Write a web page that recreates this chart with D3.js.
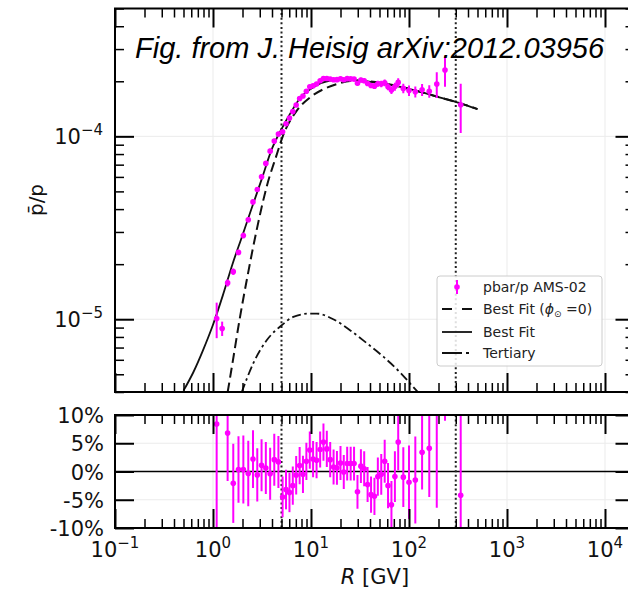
<!DOCTYPE html>
<html>
<head>
<meta charset="utf-8">
<script src="https://cdn.jsdelivr.net/npm/d3@7"></script>
<style>
  body { margin: 0; background: #fff; }
  svg { display: block; font-family: "DejaVu Sans", sans-serif; }
</style>
</head>
<body>
<svg id="chart" width="628" height="589"></svg>
<script>
// AMS-02 pbar/p points (rigidity in GV)
const rigidity = [1.09, 1.24, 1.41, 1.61, 1.82, 2.04, 2.29, 2.56, 2.83, 3.13, 3.46, 3.83, 4.22, 4.65,
  5.13, 5.56, 6.03, 6.52, 7.06, 7.66, 8.28, 8.97, 9.72, 10.5, 11.4, 12.4, 13.4, 14.5, 15.7, 17.0, 18.4,
  20.0, 21.6, 23.4, 25.4, 27.5, 29.8, 32.3, 34.9, 37.8, 41.0, 44.4, 48.1, 52.1, 56.5, 61.1, 66.2, 71.8,
  77.6, 87.5, 100, 116, 136, 161, 192, 233, 337];
const ratio = [1.01e-5, 8.9e-6, 1.58e-5, 1.82e-5, 2.32e-5, 2.87e-5, 3.50e-5, 4.38e-5, 5.12e-5, 6.01e-5,
  7.11e-5, 8.30e-5, 9.42e-5, 1.03e-4,
  1.06e-4, 1.171e-4, 1.258e-4, 1.365e-4, 1.484e-4, 1.609e-4, 1.663e-4, 1.763e-4, 1.866e-4, 1.890e-4,
  1.931e-4, 2.015e-4, 2.070e-4, 2.070e-4, 2.057e-4, 2.039e-4, 2.042e-4, 2.064e-4, 2.037e-4, 2.067e-4,
  2.061e-4, 2.056e-4, 1.950e-4, 2.034e-4, 2.014e-4, 1.945e-4, 1.898e-4, 1.881e-4, 1.938e-4, 1.933e-4,
  1.963e-4, 1.868e-4, 1.790e-4, 1.871e-4, 1.972e-4,
  1.828e-4, 1.779e-4, 1.751e-4, 1.797e-4, 1.764e-4, 1.930e-4, 2.307e-4, 1.489e-4];
// relative uncertainty of the ratio, %
const ratioErr = [22, 9, 4.5, 4, 3.5, 3.5, 3, 3, 3, 3, 3, 3, 3, 3,
  2.5, 2.5, 2.5, 2.5, 2.5, 2.5, 2.5, 2.5, 2.5, 2.5, 2.5, 2.5, 2.5, 2.5, 2.5, 2.5, 2.5, 2.5, 2.5, 2.5,
  2.5, 2.5, 2.6, 2.7, 2.8, 3, 3.2, 3.5, 3.8, 4, 4.2, 4.5, 4.8, 5, 5.5,
  6, 6.5, 7, 7.5, 8, 16, 19, 30];
// residuals to best fit, %
const residual = [8.4, -30, 6.8, -2.1, 0.35, 0.35, -0.35, 2.2, -0.6, 1.1, 0.6, -0.4, 2.1, 1.7,
  -4.5, -3.2, -3.7, -2.5, -0.65, 1.05, -0.5, 1.8, 3.8, 2.2, 2.0, 3.9, 5.2, 4.0, 2.1, 0.8, 0.65, 1.5,
  -0.1, 1.4, 1.4, 1.4, -3.6, 0.95, 0.5, -2.3, -4.1, -4.4, -0.9, -0.5, 1.8, -2.5, -5.9, -0.9, 5.2,
  -1.0, -1.9, -1.5, 3.4, 4.1, 11, 28, -4.2];
const residualErr = [22, 9, 8.5, 7.0, 5.9, 6.0, 5.8, 5.1, 4.7, 4.6, 4.6, 4.6, 4.6, 4.6,
  3.6, 3.5, 3.5, 3.4, 3.4, 3.3, 3.3, 3.3, 3.3, 3.2, 3.2, 3.2, 3.3, 3.2, 3.1, 3.1, 3.0, 3.0, 3.0, 3.0,
  3.0, 3.0, 3.0, 3.0, 3.1, 3.1, 3.2, 3.3, 3.4, 3.6, 3.8, 4.0, 4.2, 4.5, 5.0,
  5.3, 6.5, 7.7, 6.6, 8.6, 17.4, 19, 30];

// model curves
const fitR = [0.5, 0.63, 0.79, 1.0, 1.26, 1.58, 2.0, 2.51, 3.16, 3.98, 5.0, 6.3, 7.9, 10, 12.6, 15.8,
  22.4, 31.6, 50, 79, 126, 200, 316, 500];
const fitVal = [4.07e-6, 5.13e-6, 6.76e-6, 9.33e-6, 1.35e-5, 2.0e-5, 2.88e-5, 4.12e-5, 5.89e-5, 8.51e-5,
  1.096e-4, 1.365e-4, 1.64e-4, 1.82e-4, 1.95e-4, 2.02e-4, 2.04e-4, 2.02e-4, 1.95e-4, 1.87e-4, 1.76e-4,
  1.64e-4, 1.53e-4, 1.41e-4];
const fitNoModR = [1.41, 1.58, 1.87, 2.24, 2.82, 3.55, 4.47, 5.15, 7.13, 9.77, 13.4, 18.3, 25.1, 39.8,
  79.4, 126, 200, 316, 500];
const fitNoModVal = [3.98e-6, 5.75e-6, 1.0e-5, 1.70e-5, 3.16e-5, 5.37e-5, 7.94e-5, 1.0e-4, 1.377e-4,
  1.633e-4, 1.81e-4, 1.93e-4, 2.01e-4, 1.995e-4, 1.875e-4, 1.76e-4, 1.64e-4, 1.53e-4, 1.41e-4];
const tertR = [1.96, 2.58, 3.53, 5.03, 6.6, 9.77, 11.4, 16.9, 25, 36.9, 54.7, 80.8, 102, 124];
const tertVal = [3.98e-6, 5.75e-6, 7.67e-6, 9.27e-6, 1.03e-5, 1.074e-5, 1.074e-5, 1.0e-5, 8.71e-6,
  7.41e-6, 6.24e-6, 5.13e-6, 4.47e-6, 3.98e-6];

const xMajor = [0.1, 1, 10, 100, 1000, 10000];
const xMajorExp = ["\u22121", "0", "1", "2", "3", "4"];
const yTopMajor = [1e-5, 1e-4];
const yTopMajorExp = ["\u22125", "\u22124"];
const yBotMajor = [-10, -5, 0, 5, 10];
const yBotLabels = ["-10%", "-5%", "0%", "5%", "10%"];
const boundaries = [5, 300];
const titleText = "Fig. from J. Heisig arXiv:2012.03956";

const svg = d3.select("#chart");
const left = 115, right = 634.5;
const topT = 8.5, botT = 392, topB = 415, botB = 528;
const magenta = "#ff00ff";

const x = d3.scaleLog().domain([0.1, 2e4]).range([left, right]);
const yTop = d3.scaleLog().domain([4e-6, 5e-4]).range([botT, topT]);
const yBot = d3.scaleLinear().domain([-10, 10]).range([botB, topB]);

const isPow10 = v => Math.abs(Math.log10(v) - Math.round(Math.log10(v))) < 1e-6;
const xMinor = x.ticks().filter(v => !isPow10(v));
const yTopMinor = yTop.ticks().filter(v => !isPow10(v));

const defs = svg.append("defs");
defs.append("clipPath").attr("id", "clipTop").append("rect")
  .attr("x", left).attr("y", topT).attr("width", right - left).attr("height", botT - topT);
defs.append("clipPath").attr("id", "clipBot").append("rect")
  .attr("x", left).attr("y", topB).attr("width", right - left).attr("height", botB - topB);

// grid
const grid = svg.append("g").attr("stroke", "#ebebeb").attr("stroke-width", 1);
[[topT, botT], [topB, botB]].forEach(([y0, y1]) => {
  grid.selectAll(null).data(xMajor).join("line")
    .attr("x1", d => x(d)).attr("x2", d => x(d)).attr("y1", y0).attr("y2", y1);
});
grid.selectAll(null).data(yTopMajor).join("line")
  .attr("x1", left).attr("x2", right).attr("y1", d => yTop(d)).attr("y2", d => yTop(d));
grid.selectAll(null).data([-5, 5]).join("line")
  .attr("x1", left).attr("x2", right).attr("y1", d => yBot(d)).attr("y2", d => yBot(d));

// zero line
svg.append("line").attr("x1", left).attr("x2", right)
  .attr("y1", yBot(0)).attr("y2", yBot(0)).attr("stroke", "#000").attr("stroke-width", 1.5);

// boundary lines
[[topT, botT], [topB, botB]].forEach(([y0, y1]) => {
  svg.append("g").selectAll("line").data(boundaries).join("line")
    .attr("x1", d => x(d)).attr("x2", d => x(d)).attr("y1", y0).attr("y2", y1)
    .attr("stroke", "#222").attr("stroke-width", 2).attr("stroke-dasharray", "2,2.6");
});

// curves
const topLayer = svg.append("g").attr("clip-path", "url(#clipTop)");
const line = d3.line().x(d => x(d[0])).y(d => yTop(d[1])).curve(d3.curveMonotoneX);
topLayer.append("path").datum(d3.zip(tertR, tertVal)).attr("d", line)
  .attr("fill", "none").attr("stroke", "#111").attr("stroke-width", 1.8)
  .attr("stroke-dasharray", "9,3.5,2.5,3.5");
topLayer.append("path").datum(d3.zip(fitNoModR, fitNoModVal)).attr("d", line)
  .attr("fill", "none").attr("stroke", "#111").attr("stroke-width", 2)
  .attr("stroke-dasharray", "10,5");
topLayer.append("path").datum(d3.zip(fitR, fitVal)).attr("d", line)
  .attr("fill", "none").attr("stroke", "#111").attr("stroke-width", 1.8);

// data, top panel
const pts = rigidity.map((r, i) => ({ r, v: ratio[i], e: ratioErr[i], res: residual[i], re: residualErr[i] }));
topLayer.append("g").selectAll("line").data(pts).join("line")
  .attr("x1", d => x(d.r)).attr("x2", d => x(d.r))
  .attr("y1", d => yTop(d.v * (1 - d.e / 100))).attr("y2", d => yTop(d.v * (1 + d.e / 100)))
  .attr("stroke", magenta).attr("stroke-width", 2);
topLayer.append("g").selectAll("circle").data(pts).join("circle")
  .attr("cx", d => x(d.r)).attr("cy", d => yTop(d.v)).attr("r", 2.8).attr("fill", magenta);

// data, residual panel
const botLayer = svg.append("g").attr("clip-path", "url(#clipBot)");
botLayer.append("g").selectAll("line").data(pts).join("line")
  .attr("x1", d => x(d.r)).attr("x2", d => x(d.r))
  .attr("y1", d => yBot(d.res - d.re)).attr("y2", d => yBot(d.res + d.re))
  .attr("stroke", magenta).attr("stroke-width", 2);
botLayer.append("g").selectAll("circle").data(pts).join("circle")
  .attr("cx", d => x(d.r)).attr("cy", d => yBot(d.res)).attr("r", 2.8).attr("fill", magenta);

// ticks (all pointing inwards)
function tickSet(axis, pos, scale, vals, len, w) {
  const g = svg.append("g").attr("transform", pos);
  g.call(axis(scale).tickValues(vals).tickSize(-len).tickFormat(""));
  g.select(".domain").remove();
  g.selectAll("line").attr("stroke", "#000").attr("stroke-width", w);
}
[[topT, botT], [topB, botB]].forEach(([y0, y1]) => {
  tickSet(d3.axisBottom, `translate(0,${y1})`, x, xMajor, 19, 2);
  tickSet(d3.axisBottom, `translate(0,${y1})`, x, xMinor, 9, 1.5);
  tickSet(d3.axisTop, `translate(0,${y0})`, x, xMajor, 19, 2);
  tickSet(d3.axisTop, `translate(0,${y0})`, x, xMinor, 9, 1.5);
});
tickSet(d3.axisLeft, `translate(${left},0)`, yTop, yTopMajor, 19, 2);
tickSet(d3.axisLeft, `translate(${left},0)`, yTop, yTopMinor, 9, 1.5);
tickSet(d3.axisRight, `translate(${right},0)`, yTop, yTopMajor, 19, 2);
tickSet(d3.axisRight, `translate(${right},0)`, yTop, yTopMinor, 9, 1.5);
tickSet(d3.axisLeft, `translate(${left},0)`, yBot, yBotMajor, 19, 2);
tickSet(d3.axisRight, `translate(${right},0)`, yBot, yBotMajor, 19, 2);

// spines
[[topT, botT], [topB, botB]].forEach(([y0, y1]) => {
  svg.append("rect").attr("x", left).attr("y", y0).attr("width", right - left).attr("height", y1 - y0)
    .attr("fill", "none").attr("stroke", "#000").attr("stroke-width", 2);
});

// tick labels
const fs = 21;
svg.append("g").selectAll("text").data(yTopMajor).join("text")
  .attr("x", 103).attr("y", d => yTop(d) + 8).attr("text-anchor", "end")
  .attr("font-size", fs).attr("fill", "#111")
  .each(function (d, i) {
    const t = d3.select(this);
    t.append("tspan").text("10");
    t.append("tspan").attr("dy", -9).attr("font-size", 15).text(yTopMajorExp[i]);
  });
svg.append("g").selectAll("text").data(yBotMajor).join("text")
  .attr("x", 104).attr("y", d => yBot(d) + 8).attr("text-anchor", "end")
  .attr("font-size", fs).attr("fill", "#111")
  .text((d, i) => yBotLabels[i]);
svg.append("g").selectAll("text").data(xMajor).join("text")
  .attr("x", d => x(d)).attr("y", 557).attr("text-anchor", "middle")
  .attr("font-size", fs).attr("fill", "#111")
  .each(function (d, i) {
    const t = d3.select(this);
    t.append("tspan").text("10");
    t.append("tspan").attr("dy", -9).attr("font-size", 15).text(xMajorExp[i]);
  });

// axis titles
const xt = svg.append("text").attr("x", 375).attr("y", 584).attr("text-anchor", "middle")
  .attr("font-size", fs).attr("fill", "#111");
xt.append("tspan").attr("font-style", "italic").text("R");
xt.append("tspan").text(" [GV]");
svg.append("text").attr("transform", "translate(43,200) rotate(-90)")
  .attr("text-anchor", "middle").attr("font-size", 20).attr("fill", "#111")
  .text("p\u0304/p");

// title
svg.append("text").attr("x", 135).attr("y", 58)
  .attr("font-family", "'Liberation Sans', Arial, sans-serif").attr("font-style", "italic")
  .attr("font-size", 29).attr("fill", "#000").text(titleText);

// legend
const lg = svg.append("g");
lg.append("rect").attr("x", 437).attr("y", 276).attr("width", 165).attr("height", 90).attr("rx", 3)
  .attr("fill", "#fff").attr("fill-opacity", 0.85).attr("stroke", "#ccc").attr("stroke-width", 1);
const rows = [287, 309, 332, 353];
lg.append("line").attr("x1", 457).attr("x2", 457).attr("y1", rows[0] - 7).attr("y2", rows[0] + 7)
  .attr("stroke", magenta).attr("stroke-width", 2);
lg.append("circle").attr("cx", 457).attr("cy", rows[0]).attr("r", 2.8).attr("fill", magenta);
lg.append("line").attr("x1", 442).attr("x2", 472).attr("y1", rows[1]).attr("y2", rows[1])
  .attr("stroke", "#111").attr("stroke-width", 2).attr("stroke-dasharray", "10,10");
lg.append("line").attr("x1", 442).attr("x2", 472).attr("y1", rows[2]).attr("y2", rows[2])
  .attr("stroke", "#111").attr("stroke-width", 1.8);
lg.append("line").attr("x1", 442).attr("x2", 472).attr("y1", rows[3]).attr("y2", rows[3])
  .attr("stroke", "#111").attr("stroke-width", 1.8).attr("stroke-dasharray", "20,4,3,4");
const lt = (i) => lg.append("text").attr("x", 483).attr("y", rows[i] + 5)
  .attr("font-size", 14).attr("fill", "#222");
lt(0).text("pbar/p AMS-02");
const l1 = lt(1);
l1.append("tspan").text("Best Fit (");
l1.append("tspan").attr("font-style", "italic").text("\u03d5");
l1.append("tspan").attr("font-size", 9).attr("dy", 3).text("\u2299");
l1.append("tspan").attr("dy", -3).text(" =0)");
lt(2).text("Best Fit");
lt(3).text("Tertiary");
</script>
</body>
</html>
